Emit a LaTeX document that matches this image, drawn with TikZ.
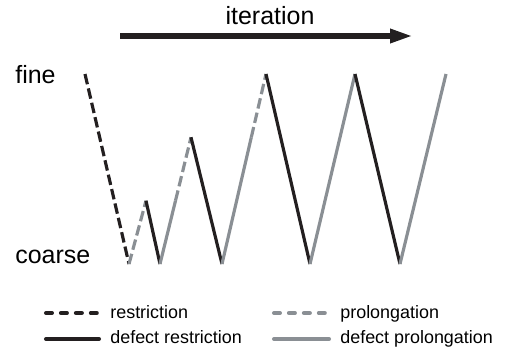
\documentclass[tikz,border=0pt]{standalone}
\usepackage{fontspec}
\setmainfont{Liberation Sans}
\usetikzlibrary{arrows.meta}
\definecolor{darkline}{RGB}{35,31,32}
\definecolor{greyline}{RGB}{138,143,148}

\begin{document}
\begin{tikzpicture}[scale=0.2,
  restr/.style={darkline,line width=1.8pt,dash pattern=on 6pt off 2.4pt},
  prolong/.style={greyline,line width=1.8pt,dash pattern=on 6pt off 2.4pt},
  defrestr/.style={darkline,line width=1.8pt},
  defprolong/.style={greyline,line width=1.8pt},
  keyline/.style={line width=2.3pt,line cap=round},
  keydash/.style={keyline,dash pattern=on 3.4pt off 5.1pt},
  lvl/.style={font=\fontsize{14.2}{17}\selectfont,anchor=base west},
  lgd/.style={font=\fontsize{10.2}{12}\selectfont,anchor=base west}]
\tikzstyle{every node}+=[inner sep=0pt]
\useasboundingbox (0,0) rectangle (50.5,-35.4);
% iteration arrow
\coordinate (itstart) at (12,-3.6);
\coordinate (itend) at (41.3,-3.6);
\draw [darkline,line width=3.2pt,-{Triangle[length=13pt,width=7.4pt]}] (itstart) -- (itend);
\node [font=\fontsize{14.2}{17}\selectfont,anchor=base] (iter) at (27,-2.45) {iteration};
% grid levels
\node [lvl] (fine) at (1.5,-8.3) {fine};
\node [lvl] (coarse) at (1.5,-26.3) {coarse};
% cycle vertices
\coordinate (p0) at (8.5,-7.4);
\coordinate (p1) at (12.9,-26.4);
\coordinate (p2) at (14.6,-20.07);
\coordinate (p3) at (16.0,-26.4);
\coordinate (p4) at (17.55,-20.07);
\coordinate (p5) at (19.1,-13.73);
\coordinate (p6) at (22.2,-26.4);
\coordinate (p7) at (25.13,-13.73);
\coordinate (p8) at (26.6,-7.4);
\coordinate (p9) at (31.0,-26.4);
\coordinate (p10) at (35.5,-7.4);
\coordinate (p11) at (40.0,-26.4);
\coordinate (p12) at (44.6,-7.4);
\draw [restr] (p0) -- (p1);
\draw [prolong] (p1) -- (p2);
\draw [defrestr] (p2) -- (p3);
\draw [defprolong] (p3) -- (p4);
\draw [prolong] (p4) -- (p5);
\draw [defrestr] (p5) -- (p6);
\draw [defprolong] (p6) -- (p7);
\draw [prolong] (p7) -- (p8);
\draw [defrestr] (p8) -- (p9);
\draw [defprolong] (p9) -- (p10);
\draw [defrestr] (p10) -- (p11);
\draw [defprolong] (p11) -- (p12);
% legend
\coordinate (la) at (4.6,-31.3);
\coordinate (lb) at (9.8,-31.3);
\coordinate (lc) at (4.6,-33.9);
\coordinate (ld) at (9.9,-33.9);
\coordinate (le) at (27.4,-31.3);
\coordinate (lf) at (32.6,-31.3);
\coordinate (lg) at (27.4,-33.9);
\coordinate (lh) at (32.9,-33.9);
\draw [keydash,darkline] (la) -- (lb);
\draw [keyline,darkline] (lc) -- (ld);
\draw [keydash,greyline] (le) -- (lf);
\draw [keyline,greyline] (lg) -- (lh);
\node [lgd] (trestr) at (11.0,-31.8) {restriction};
\node [lgd] (tdefrestr) at (11.0,-34.3) {defect restriction};
\node [lgd] (tprolong) at (34.0,-31.8) {prolongation};
\node [lgd] (tdefprolong) at (34.0,-34.3) {defect prolongation};
\end{tikzpicture}
\end{document}
